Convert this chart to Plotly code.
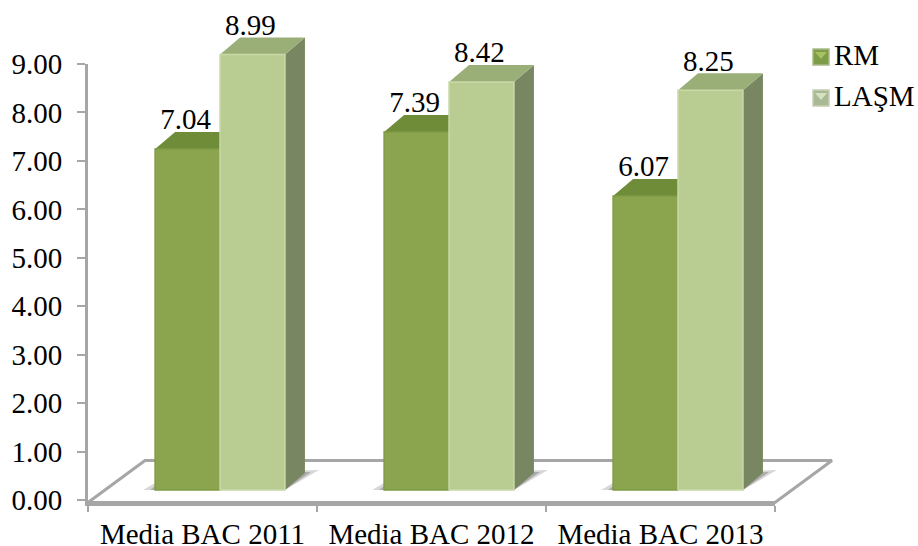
import plotly.graph_objects as go

categories = ["Media BAC 2011", "Media BAC 2012", "Media BAC 2013"]
series_names = ["RM", "LAŞM"]
rm_values = [7.04, 7.39, 6.07]
lasm_values = [8.99, 8.42, 8.25]
y_ticks = [0, 1, 2, 3, 4, 5, 6, 7, 8, 9]

W, H = 918, 546
L, R, T, B = 88, 775, 64, 502.5
Y_MIN, Y_MAX = -0.05, 9.0
ux = (R - L) / 3.0              # px per category
uy = (B - T) / (Y_MAX - Y_MIN)  # px per value unit

# depth geometry in axis units
BASE = 10 / uy
DX, DY = 20 / ux, 17 / uy
BAR_LEFT = -0.207
BAR_W = 0.2835
FLOOR_DX, FLOOR_DY = 57 / ux, 42 / uy

GREY = "#a6a6a6"
TXT = "#000000"
FONT = "Liberation Serif, Times New Roman, serif"

fig = go.Figure()


def poly(xs, ys, fill, line=None, width=0):
    fig.add_trace(go.Scatter(
        x=xs + xs[:1], y=ys + ys[:1], mode="lines", fill="toself", fillcolor=fill,
        line=dict(color=line or "rgba(0,0,0,0)", width=width), hoverinfo="skip",
        showlegend=False, xaxis="x", yaxis="y"))


# floor
fx0, fx1 = -0.5, 2.5
fy0 = Y_MIN
poly([fx0, fx1, fx1 + FLOOR_DX, fx0 + FLOOR_DX],
     [fy0, fy0, fy0 + FLOOR_DY, fy0 + FLOOR_DY], "#ffffff", GREY, 3)

# shadows on the floor
for i in range(len(categories)):
    xl = i + BAR_LEFT
    xr = xl + 2 * BAR_W
    poly([xl - 12 / ux, xl, xl + DX, xr + DX + 14 / ux, xr],
         [BASE, BASE + 7 / uy, BASE + DY, BASE + DY + 3 / uy, BASE],
         "rgba(110,110,110,0.28)")
    poly([xl - 5 / ux, xl, xl + DX, xr + DX + 6 / ux, xr],
         [BASE, BASE + 4 / uy, BASE + DY, BASE + DY + 1 / uy, BASE],
         "rgba(90,90,90,0.35)")

# tops and sides
for i in range(len(categories)):
    for j, (vals, top, side) in enumerate(((rm_values, "#6f8c38", "#5f7430"),
                                            (lasm_values, "#9aaf78", "#788761"))):
        xl = i + BAR_LEFT + j * BAR_W
        xr = xl + BAR_W
        yb = BASE
        yt = BASE + vals[i]
        poly([xr, xr + DX, xr + DX, xr], [yb, yb + DY, yt + DY, yt], side)
        poly([xl, xl + DX, xr + DX, xr], [yt, yt + DY, yt + DY, yt], top)

# value labels
for j, vals in enumerate((rm_values, lasm_values)):
    fig.add_trace(go.Scatter(
        x=[i + BAR_LEFT + (j + 0.5) * BAR_W - 2 / ux for i in range(3)],
        y=[BASE + v + 27 / uy for v in vals],
        mode="text", text=[f"{v:.2f}" for v in vals], textposition="middle center",
        textfont=dict(family=FONT, size=29, color=TXT), showlegend=False,
        hoverinfo="skip", xaxis="x", yaxis="y"))

# invisible carrier so the visible axes keep their categories
fig.add_trace(go.Scatter(x=categories, y=[None] * 3, mode="markers", showlegend=False,
                         hoverinfo="skip", xaxis="x2", yaxis="y2"))

# front faces (full-page category axis sharing the visible scale, so nothing trims the tops)
for j, (name, vals, col, edge) in enumerate(((series_names[0], rm_values, "#8aa54e", "#7f9a47"),
                                              (series_names[1], lasm_values, "#b9cc92", "#c9d9a8"))):
    fig.add_trace(go.Bar(
        name=name, x=categories, y=vals, base=[BASE] * 3,
        offset=BAR_LEFT + j * BAR_W, width=BAR_W,
        marker=dict(color=col, line=dict(color=edge, width=1.5)),
        xaxis="x3", yaxis="y3", showlegend=False))

# hand-built legend (swatch sits closer to its text than plotly's legend allows)
shapes, annotations = [], []
for name, top_px, base_col, light_col, edge_col in (
        (series_names[0], 49, "#7f9c48", "#a8c262", "#a9bb88"),
        (series_names[1], 90, "#aab995", "#d6e1be", "#c4cfb3")):
    x0, x1 = 813, 829
    y0, y1 = top_px, top_px + 16
    def px(x, y):
        return f"{x / W:.5f},{1 - y / H:.5f}"
    shapes.append(dict(type="rect", xref="paper", yref="paper", x0=x0 / W, x1=x1 / W,
                       y0=1 - y0 / H, y1=1 - y1 / H, fillcolor=base_col,
                       line=dict(color=edge_col, width=1.5), layer="above"))
    shapes.append(dict(type="path", xref="paper", yref="paper",
                       path=f"M{px(x0 + 2, y0 + 3)}L{px(x1 - 2, y0 + 3)}L{px((x0 + x1) / 2, y0 + 10)}Z",
                       fillcolor=light_col, line=dict(width=0), layer="above"))
    annotations.append(dict(text=name, xref="paper", yref="paper", x=832 / W,
                            y=1 - (top_px + 6) / H, xanchor="left", yanchor="middle",
                            showarrow=False, font=dict(family=FONT, size=29, color=TXT)))

axis_font = dict(family=FONT, size=29, color=TXT)
full_x = [-0.5 - L / ux, -0.5 + (W - L) / ux]
full_y = [Y_MIN - (H - B) / uy, Y_MAX + T / uy]
fig.update_layout(
    width=W, height=H, autosize=False,
    margin=dict(l=0, r=0, t=0, b=0, pad=0, autoexpand=False),
    paper_bgcolor="#ffffff", plot_bgcolor="rgba(0,0,0,0)",
    barmode="overlay", font=axis_font, showlegend=False,
    shapes=shapes, annotations=annotations,
    # full-page hidden axes for the depth faces, sharing the visible axes' scale
    xaxis=dict(domain=[0, 1], range=full_x, visible=False, fixedrange=True),
    yaxis=dict(domain=[0, 1], range=full_y, visible=False, fixedrange=True),
    xaxis3=dict(type="category", categoryorder="array", categoryarray=categories,
                domain=[0, 1], range=full_x, anchor="y3", visible=False, fixedrange=True),
    yaxis3=dict(domain=[0, 1], range=full_y, anchor="x3", visible=False, fixedrange=True),
    xaxis2=dict(type="category", categoryorder="array", categoryarray=categories,
                domain=[L / W, R / W], range=[-0.5, 2.5], anchor="y2", side="bottom",
                tickson="boundaries", ticks="outside", ticklen=6, tickwidth=2, tickcolor=GREY,
                showline=True, linecolor=GREY, linewidth=3, showgrid=False,
                ticklabelstandoff=4, tickfont=axis_font, fixedrange=True),
    yaxis2=dict(domain=[1 - B / H, 1 - T / H], range=[Y_MIN, Y_MAX], anchor="x2",
                tickvals=y_ticks, tickformat=".2f",
                ticks="outside", ticklen=8, tickwidth=2, tickcolor=GREY,
                showline=True, linecolor=GREY, linewidth=3, showgrid=False, zeroline=False,
                ticklabelstandoff=9, tickfont=axis_font, fixedrange=True),
)

fig.write_html(
    "out.html", config={"displayModeBar": False},
    default_width=f"{W}px", default_height=f"{H}px",
    post_script="document.body.style.margin='0';document.documentElement.style.overflow='hidden';",
)
